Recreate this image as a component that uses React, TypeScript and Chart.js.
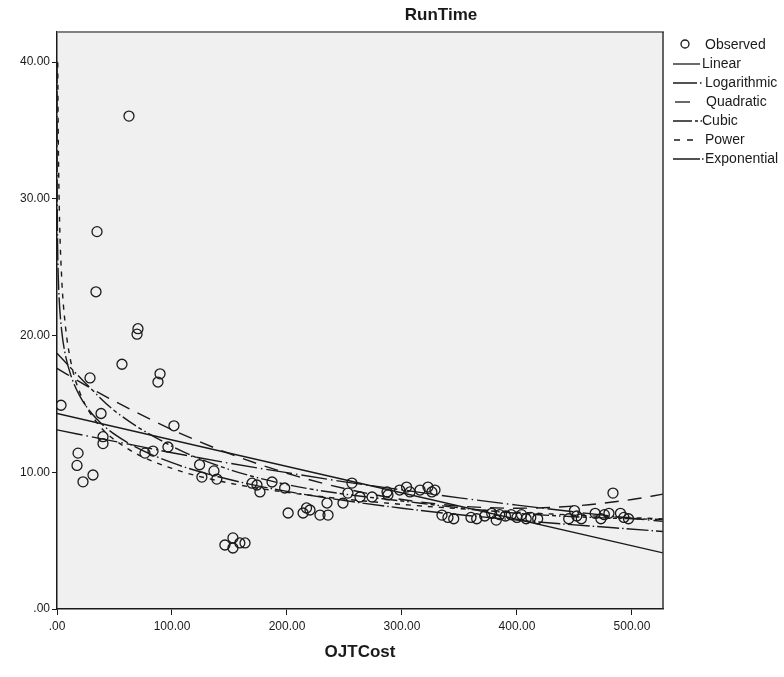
import { useEffect, useRef } from "react";
import { Chart, registerables } from "chart.js";

Chart.register(...registerables);

// ---- Observed data (OJTCost, RunTime) ----
const observedX = [
  3.5, 62.6, 34.8, 33.9, 28.7, 70.4, 69.6, 56.5, 89.6, 87.8, 38.3, 101.7, 40, 40, 18.3, 17.4, 31.3, 22.6,
  76.5, 83.5, 96.5, 124, 126, 136.5, 139, 146, 153, 153, 159, 163.5, 169.6, 173.9, 176.5, 187, 198, 201,
  214, 217, 220, 228.7, 235.7, 234.8, 248.7, 256.5, 253, 263.5, 274, 287, 287.8, 298, 304, 307, 315.7,
  322.6, 326, 328.7, 334.8, 340, 345, 360, 365, 372, 378, 382, 385, 390, 395, 400, 404, 408, 412, 418,
  445, 450, 452, 456, 468, 473, 476, 480, 483.5, 490, 493, 497,
];
const observedY = [
  14.9, 36.05, 27.6, 23.2, 16.9, 20.5, 20.1, 17.9, 17.2, 16.6, 14.3, 13.4, 12.6, 12.1, 11.4, 10.5, 9.8, 9.3,
  11.4, 11.55, 11.85, 10.55, 9.65, 10.1, 9.5, 4.68, 5.2, 4.46, 4.83, 4.83, 9.2, 9.07, 8.56, 9.29, 8.85, 7.02,
  7.02, 7.39, 7.24, 6.87, 6.87, 7.75, 7.75, 9.21, 8.48, 8.19, 8.19, 8.56, 8.34, 8.7, 8.92, 8.56, 8.7,
  8.92, 8.56, 8.7, 6.87, 6.7, 6.6, 6.7, 6.6, 6.8, 7.0, 6.5, 6.9, 6.8, 6.9, 6.7, 6.9, 6.6, 6.7, 6.6,
  6.6, 7.2, 6.8, 6.6, 7.0, 6.6, 6.9, 7.0, 8.48, 7.0, 6.7, 6.6,
];

// ---- Fitted curves, values ----
const linearX = [0, 527];
const linearY = [14.3, 4.1];

const logX = [0.006, 0.02, 0.05, 0.15, 0.5, 1, 2, 4, 7, 12, 20, 35, 60, 100, 150, 200, 300, 400, 527];
const logY = [40.05, 36.4, 33.65, 30.3, 26.7, 24.6, 22.5, 20.4, 18.7, 17.1, 15.55, 13.86, 12.24, 10.7, 9.47, 8.6, 7.37, 6.5, 5.67];

const quadX = [0, 25, 50, 100, 150, 200, 250, 300, 350, 400, 450, 500, 527];
const quadY = [17.6, 16.36, 15.2, 13.12, 11.36, 9.93, 8.81, 8.01, 7.53, 7.37, 7.53, 8.01, 8.4];

const cubicX = [0, 25, 50, 100, 150, 200, 250, 300, 350, 400, 450, 500, 527];
const cubicY = [18.7, 16.5, 14.5, 11.9, 10.2, 9.1, 8.4, 7.9, 7.4, 7.0, 6.75, 6.6, 6.55];

const powerX = [0.63, 1, 2, 4, 7, 12, 20, 35, 60, 100, 150, 200, 300, 400, 527];
const powerY = [39.96, 35.3, 29.3, 24.35, 20.95, 18.1, 15.8, 13.6, 11.8, 10.28, 9.21, 8.53, 7.65, 7.08, 6.58];

const expX = [0, 50, 100, 150, 200, 250, 300, 350, 400, 450, 500, 527];
const expY = [13.1, 12.26, 11.43, 10.66, 9.97, 9.3, 8.71, 8.13, 7.6, 7.1, 6.64, 6.41];

const xTicks = [0, 100, 200, 300, 400, 500];
const yTicks = [0, 10, 20, 30, 40];
const legendLabels = ["Observed", "Linear", "Logarithmic", "Quadratic", "Cubic", "Power", "Exponential"];

const FONT = "'Liberation Sans', Arial, sans-serif";
const INK = "#1a1a1a";

const fmt = (v: number) => (v === 0 ? ".00" : v.toFixed(2));

const toPts = (xs: number[], ys: number[]) => xs.map((x, i) => ({ x, y: ys[i] }));

const dashes: Record<string, number[]> = {
  Linear: [],
  Logarithmic: [22, 3, 1.5, 3],
  Quadratic: [14, 9],
  Cubic: [16, 3, 4, 3, 1.5, 3],
  Power: [5, 6],
  Exponential: [26, 4, 1.5, 4],
};

const framePlugin = {
  id: "frame",
  beforeDraw(chart: any) {
    const { ctx, chartArea: a } = chart;
    ctx.save();
    ctx.fillStyle = "#f0f0f0";
    ctx.fillRect(a.left, a.top, a.right - a.left, a.bottom - a.top);
    ctx.restore();
  },
  afterDraw(chart: any) {
    const { ctx, chartArea: a } = chart;
    ctx.save();
    ctx.strokeStyle = "#808080";
    ctx.lineWidth = 2;
    ctx.beginPath();
    ctx.moveTo(a.left, a.top);
    ctx.lineTo(a.right + 1, a.top);
    ctx.stroke();
    ctx.strokeStyle = "#333";
    ctx.lineWidth = 1.5;
    ctx.beginPath();
    ctx.moveTo(a.right, a.top);
    ctx.lineTo(a.right, a.bottom);
    ctx.stroke();

    ctx.fillStyle = INK;
    ctx.font = `bold 17px ${FONT}`;
    ctx.textAlign = "center";
    ctx.textBaseline = "middle";
    ctx.fillText("RunTime", 441, 15);
    ctx.fillText("OJTCost", 360, 652);

    ctx.font = `14px ${FONT}`;
    ctx.textAlign = "left";
    const x0 = 673;
    legendLabels.forEach((lab, i) => {
      const y = 45 + i * 19;
      ctx.strokeStyle = INK;
      ctx.lineWidth = 1.3;
      if (i === 0) {
        ctx.beginPath();
        ctx.arc(685, y - 1, 4, 0, Math.PI * 2);
        ctx.stroke();
        ctx.fillText(lab, 705, y);
        return;
      }
      ctx.setLineDash([]);
      ctx.beginPath();
      if (lab === "Linear") {
        ctx.moveTo(x0, y); ctx.lineTo(x0 + 27, y);
      } else if (lab === "Logarithmic") {
        ctx.moveTo(x0, y); ctx.lineTo(x0 + 24, y);
        ctx.moveTo(x0 + 27, y); ctx.lineTo(x0 + 28.5, y);
      } else if (lab === "Quadratic") {
        ctx.moveTo(x0 + 2, y); ctx.lineTo(x0 + 17, y);
      } else if (lab === "Cubic") {
        ctx.moveTo(x0, y); ctx.lineTo(x0 + 19, y);
        ctx.moveTo(x0 + 22, y); ctx.lineTo(x0 + 25, y);
        ctx.moveTo(x0 + 27.5, y); ctx.lineTo(x0 + 29, y);
      } else if (lab === "Power") {
        ctx.moveTo(x0 + 1, y); ctx.lineTo(x0 + 7, y);
        ctx.moveTo(x0 + 14, y); ctx.lineTo(x0 + 20, y);
      } else {
        ctx.moveTo(x0, y); ctx.lineTo(x0 + 27, y);
        ctx.moveTo(x0 + 29, y); ctx.lineTo(x0 + 30.5, y);
      }
      ctx.stroke();
      const tx = lab === "Quadratic" ? 706 : lab === "Linear" || lab === "Cubic" ? 702 : 705;
      ctx.fillText(lab, tx, y);
    });
    ctx.restore();
  },
};

function curve(label: string, xs: number[], ys: number[]) {
  return {
    type: "line" as const,
    label,
    data: toPts(xs, ys),
    borderColor: INK,
    borderWidth: 1.4,
    borderDash: dashes[label],
    pointRadius: 0,
    fill: false,
    tension: label === "Linear" ? 0 : 0.4,
    cubicInterpolationMode: "monotone" as const,
  };
}

export default function App() {
  const ref = useRef<HTMLCanvasElement>(null);

  useEffect(() => {
    document.body.style.margin = "0";
    const canvas = ref.current!;
    const chart = new Chart(canvas, {
      type: "scatter",
      data: {
        datasets: [
          {
            type: "scatter",
            label: "Observed",
            data: toPts(observedX, observedY),
            pointStyle: "circle",
            pointRadius: 5,
            borderColor: INK,
            borderWidth: 1.3,
            backgroundColor: "rgba(0,0,0,0)",
          } as any,
          curve("Linear", linearX, linearY),
          curve("Logarithmic", logX, logY),
          curve("Quadratic", quadX, quadY),
          curve("Cubic", cubicX, cubicY),
          curve("Power", powerX, powerY),
          curve("Exponential", expX, expY),
        ],
      },
      options: {
        animation: false,
        responsive: false,
        devicePixelRatio: 1,
        layout: { padding: { left: 0, right: 121, top: 32, bottom: 0 } },
        plugins: {
          legend: { display: false },
          title: { display: false },
          tooltip: { enabled: false },
        },
        scales: {
          x: {
            type: "linear",
            min: 0,
            max: 527,
            afterFit: (s: any) => {
              s.height = 68;
            },
            afterBuildTicks: (s: any) => {
              s.ticks = xTicks.map((v) => ({ value: v }));
            },
            ticks: {
              callback: (v: any) => fmt(Number(v)),
              color: INK,
              font: { family: FONT, size: 12 },
              padding: 4,
              maxRotation: 0,
            },
            grid: { drawOnChartArea: false, drawTicks: true, tickLength: 6, color: INK },
            border: { color: INK, width: 1.5 },
          },
          y: {
            type: "linear",
            min: 0,
            max: 42.2,
            afterFit: (s: any) => {
              s.width = 57;
            },
            afterBuildTicks: (s: any) => {
              s.ticks = yTicks.map((v) => ({ value: v }));
            },
            ticks: {
              callback: (v: any) => fmt(Number(v)),
              color: INK,
              font: { family: FONT, size: 12 },
              padding: 2,
            },
            grid: { drawOnChartArea: false, drawTicks: true, tickLength: 5, color: INK },
            border: { color: INK, width: 1.5 },
          },
        },
      },
      plugins: [framePlugin],
    });
    return () => chart.destroy();
  }, []);

  return <canvas ref={ref} width={784} height={677} style={{ display: "block", width: 784, height: 677 }} />;
}
